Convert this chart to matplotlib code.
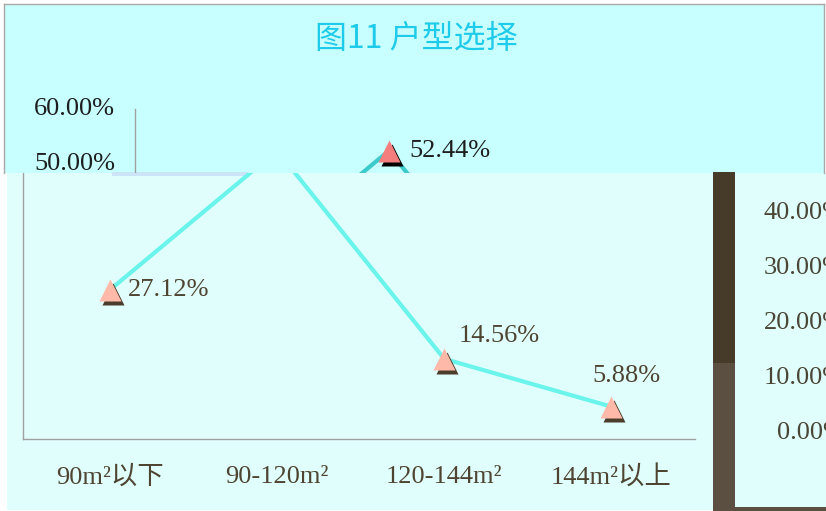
import matplotlib
matplotlib.use('Agg')
import matplotlib.pyplot as plt
from matplotlib.patches import Rectangle
from matplotlib.lines import Line2D
from matplotlib.transforms import Bbox, TransformedBbox, offset_copy

# data
categories = ['90m²以下', '90-120m²', '120-144m²', '144m²以上']
shares = [27.12, 52.44, 14.56, 5.88]
y_ticks = [0, 10, 20, 30, 40, 50, 60]
title = '图11 户型选择'

# where each value label sits relative to its marker (px right, px up, align)
label_pos = [(18, 0, 'left'), (20, 0, 'left'), (55, 23, 'center'), (15, 31, 'center')]

W, H = 826, 511
fig = plt.figure(figsize=(W / 100, H / 100), dpi=100)
fig.patch.set_facecolor('white')
renderer = fig.canvas.get_renderer()
serif = ['Liberation Serif', 'Noto Sans CJK SC']


def px_box(x0, y0, x1, y1):
    # box in pixels measured from the top-left corner
    return Bbox.from_extents(x0 / W, 1 - y1 / H, x1 / W, 1 - y0 / H)


def clip(artist, box):
    artist.set_clip_on(True)
    artist.set_clip_box(TransformedBbox(box, fig.transFigure))


def clip_text(t, box):
    # texts that fall wholly outside their piece of the picture are dropped
    if not t.get_window_extent(renderer).overlaps(TransformedBbox(box, fig.transFigure)):
        t.remove()
    else:
        clip(t, box)


def rect(x0, y0, x1, y1, color, z):
    fig.add_artist(Rectangle((x0 / W, 1 - y1 / H), (x1 - x0) / W, (y1 - y0) / H,
                             transform=fig.transFigure, facecolor=color,
                             edgecolor='none', zorder=z))


def edge(x0, y0, x1, y1):
    fig.add_artist(Line2D([x0 / W, x1 / W], [1 - y0 / H, 1 - y1 / H],
                          transform=fig.transFigure, color='#A8A8A8', lw=1, zorder=-7))


# backgrounds of the broken-up picture
rect(4, 4, 824, 173, '#C8FFFF', -10)
edge(4, 4, 824, 4)
edge(4, 4, 4, 173)
edge(824, 4, 824, 173)
rect(7, 173, 826, 510, '#E0FFFC', -9)
rect(112, 172, 248, 176, '#CCE4F8', -8)
rect(713, 172, 735, 363, '#463A28', -8)
rect(713, 363, 735, 511, '#5B4F41', -8)
rect(735, 507, 826, 511, '#5B4F41', -8)


def draw_copy(left, zero, box, line_c, face_c, shadow_c, text_c):
    ax = fig.add_axes([left / W, (H - zero) / H, 672 / W, 330 / H])
    ax.set_xlim(-0.52, 3.5)
    ax.set_ylim(0, 60)
    ax.set_facecolor('none')
    ax.set_xticks([])
    ax.set_yticks([])
    for s in ['top', 'right']:
        ax.spines[s].set_visible(False)
    for s in ['left', 'bottom']:
        ax.spines[s].set_color('#A0A0A0')
        ax.spines[s].set_linewidth(1)
        clip(ax.spines[s], box)

    x = list(range(len(shares)))
    ln, = ax.plot(x, shares, color=line_c, lw=3, zorder=2)
    clip(ln, box)
    shadow = offset_copy(ax.transData, fig=fig, x=3, y=-4, units='dots')
    sh, = ax.plot(x, shares, '^', ms=16, color=shadow_c, mec='none',
                  transform=shadow, zorder=3)
    mk, = ax.plot(x, shares, '^', ms=16, color=face_c, mec='none', zorder=4)
    clip(sh, box)
    clip(mk, box)

    for i, v in enumerate(shares):
        dx, dy, ha = label_pos[i]
        tr = offset_copy(ax.transData, fig=fig, x=dx, y=dy, units='dots')
        t = fig.text(i, v, '{:.2f}%'.format(v), transform=tr, ha=ha, va='center',
                     fontsize=19, color=text_c, family=serif)
        clip_text(t, box)

    tr = offset_copy(ax.get_yaxis_transform(), fig=fig, x=-20, units='dots')
    for v in y_ticks:
        t = fig.text(0, v, '{:.2f}%'.format(v), transform=tr, ha='right', va='center',
                     fontsize=19, color=text_c, family=serif)
        clip_text(t, box)

    tr = offset_copy(ax.transData, fig=fig, y=-38, units='dots')
    for i, c in enumerate(categories):
        t = fig.text(i, 0, c, transform=tr, ha='center', va='center',
                     fontsize=19, color=text_c, family=serif)
        clip_text(t, box)


# upper strip: the chart shifted right
draw_copy(135, 439, px_box(4, 4, 824, 173), '#3CCACA', '#F47E7E', '#000000', '#1E1E1E')
# lower part: the chart in place
draw_copy(23, 439, px_box(7, 173, 713, 511), '#6AF4EC', '#FFB9A9', '#4B3D2C', '#4E4431')
# right edge: only the axis labels of another copy show through
draw_copy(865, 433, px_box(735, 173, 826, 507), '#6AF4EC', '#FFB9A9', '#4B3D2C', '#4A4535')

fig.text(416 / W, 1 - 39 / H, title, ha='center', va='center', fontsize=23,
         color='#1ECBEA', family=['Noto Sans CJK SC', 'DejaVu Sans'])

fig.savefig('out.png', dpi=100, facecolor=fig.get_facecolor())
